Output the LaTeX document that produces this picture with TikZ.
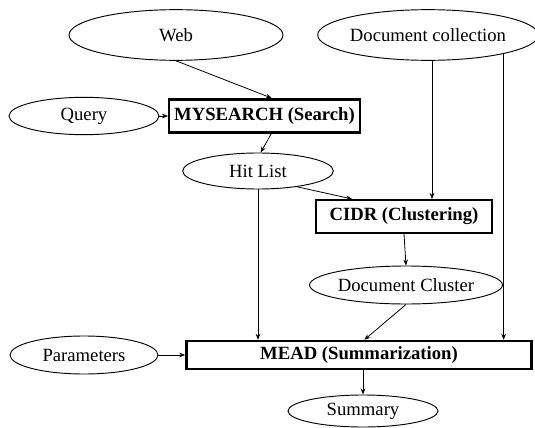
\documentclass[tikz,border=0pt]{standalone}
\usepackage{fontspec}
\setmainfont{Liberation Serif}
\usetikzlibrary{arrows.meta, shapes.geometric}

\begin{document}
\begin{tikzpicture}[x=0.75pt, y=-0.75pt, >={Stealth[length=4.5pt, width=3.5pt]},
  font=\fontsize{14}{16}\selectfont]
\useasboundingbox (0,0) rectangle (535,428);
\begin{scope}[every node/.style={ellipse, draw, line width=0.7pt, inner sep=0pt}]
  \node[minimum width=160.5pt, minimum height=38pt] (web) at (176,35) {Web};
  \node[minimum width=160.5pt, minimum height=38pt] (doccoll) at (428,35) {Document collection};
  \node[minimum width=112.5pt, minimum height=28pt] (query) at (84,116) {Query};
  \node[minimum width=113pt, minimum height=27pt] (hitlist) at (258,171) {Hit List};
  \node[minimum width=130pt, minimum height=28.5pt] (doccluster) at (406,285) {Document Cluster};
  \node[minimum width=111pt, minimum height=28.5pt] (params) at (84,355) {Parameters};
  \node[minimum width=112.5pt, minimum height=24pt] (summary) at (363,411) {Summary};
\end{scope}
\begin{scope}[every node/.style={rectangle, draw, line width=1.8pt, inner sep=0pt, font=\fontsize{14}{16}\selectfont\bfseries}]
  \node[minimum width=143pt, minimum height=25pt] (mysearch) at (264.5,116) {MYSEARCH (Search)};
  \node[minimum width=132pt, minimum height=24.5pt] (cidr) at (404,216.5) {CIDR (Clustering)};
  \node[minimum width=259pt, minimum height=21pt] (mead) at (359,355) {MEAD (Summarization)};
\end{scope}
\begin{scope}[line width=0.6pt]
\draw[->] (query) -- (mysearch);
\draw[->] (web.south) -- ([xshift=5.5pt]mysearch.north);
\draw[->] ([xshift=5pt]mysearch.south) -- ([xshift=2pt]hitlist.north);
\draw[->] (hitlist.-22) -- ([xshift=-39pt]cidr.north);
\draw[->] (hitlist.south) -- (hitlist.south |- mead.north);
\draw[->] ([xshift=3pt]doccoll.south) -- ([xshift=3pt]doccoll.south |- cidr.north);
\draw[->] (doccoll.-14) -- (doccoll.-14 |- mead.north);
\draw[->] (cidr.south) -- (doccluster.north);
\draw[->] (doccluster.south) -- ([xshift=4pt]mead.north);
\draw[->] (params) -- (mead);
\draw[->] (summary.north |- mead.south) -- (summary.north);
\end{scope}
\end{tikzpicture}
\end{document}
